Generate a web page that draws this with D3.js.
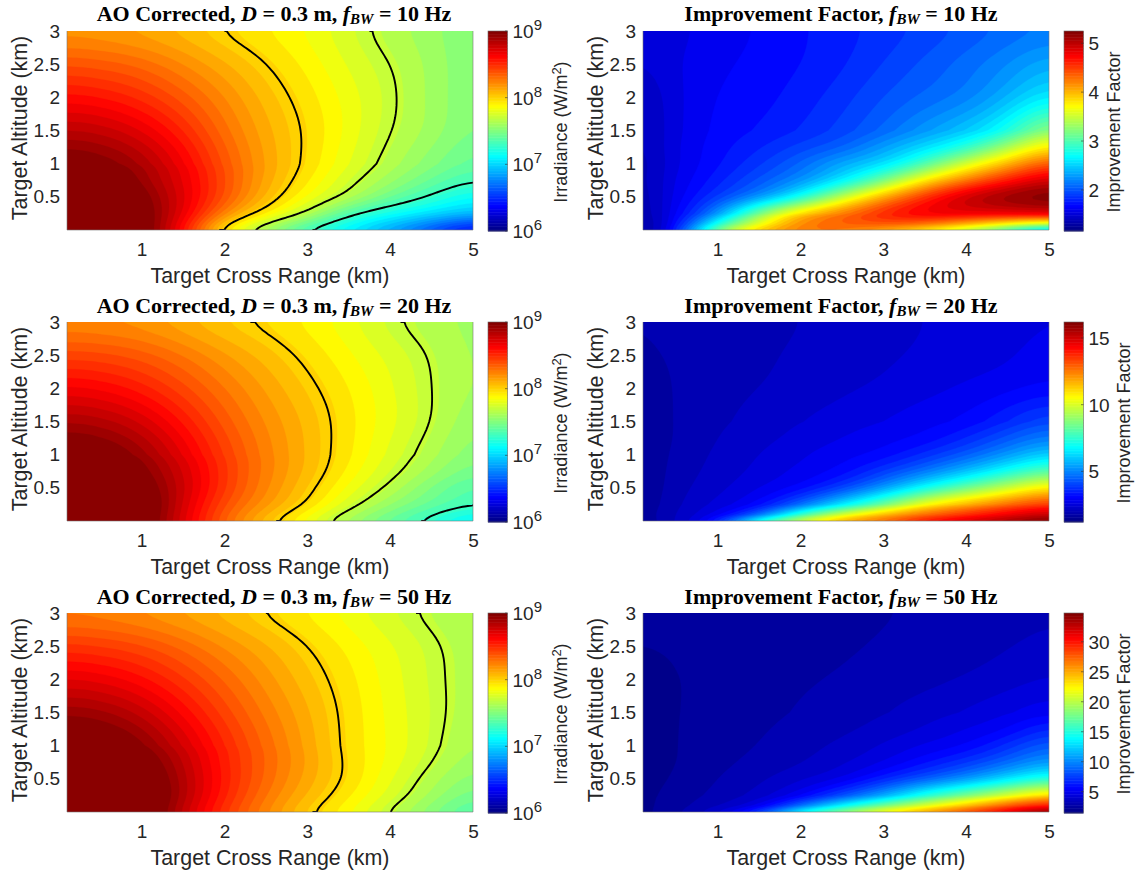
<!DOCTYPE html>
<html><head><meta charset="utf-8">
<script src="https://cdn.jsdelivr.net/npm/d3@7/dist/d3.min.js"></script>
<style>
html,body{margin:0;padding:0;background:#fff}
svg{display:block}
text{font-family:"Liberation Sans",Arial,sans-serif;fill:#262626}
.ttl{font-family:"Liberation Serif","Times New Roman",serif;font-weight:bold;fill:#000}
</style></head><body><div id="chart"></div>
<script>
// Shared axes of the data grids
const crossRangeKm = [0.1,0.5,1,1.5,2,2.5,3,3.5,4,4.5,5];
const altIrradianceKm = [0,0.25,0.5,0.75,1,1.5,2,2.5,3];
const altFactorKm = [0,0.1,0.25,0.5,0.75,1,1.25,1.5,2,2.5,3];

// log10 irradiance, one row per altitude (bottom to top)
const logIrradiance10Hz = [
 [9.3,9.3,9.08,8.6,7.91,7.58,7.29,7.07,6.85,6.6,6.35],
 [9.3,9.3,9.05,8.7,8.23,7.92,7.67,7.35,7.17,7.03,6.9],
 [9.25,9.25,9.0,8.72,8.38,8.08,7.85,7.65,7.44,7.28,7.12],
 [9.15,9.13,8.92,8.7,8.4,8.13,7.93,7.74,7.58,7.43,7.3],
 [9.03,9.0,8.88,8.66,8.38,8.15,7.97,7.8,7.65,7.52,7.4],
 [8.82,8.8,8.7,8.52,8.3,8.12,7.98,7.84,7.7,7.6,7.48],
 [8.6,8.58,8.5,8.37,8.22,8.07,7.95,7.83,7.72,7.6,7.5],
 [8.39,8.37,8.32,8.22,8.11,8.0,7.9,7.79,7.7,7.6,7.5],
 [8.18,8.17,8.13,8.07,7.985,7.92,7.85,7.75,7.65,7.58,7.5]];
const logIrradiance20Hz = [
 [9.35,9.35,9.1,8.72,8.33,8.06,7.83,7.59,7.42,7.25,7.08],
 [9.35,9.35,9.12,8.75,8.4,8.18,7.98,7.75,7.56,7.42,7.3],
 [9.3,9.3,9.05,8.78,8.46,8.23,8.04,7.84,7.67,7.49,7.36],
 [9.2,9.18,8.98,8.76,8.47,8.25,8.08,7.9,7.74,7.59,7.45],
 [9.08,9.05,8.92,8.7,8.45,8.25,8.09,7.93,7.78,7.64,7.51],
 [8.87,8.85,8.75,8.57,8.37,8.21,8.08,7.94,7.82,7.7,7.56],
 [8.65,8.63,8.55,8.42,8.28,8.15,8.03,7.92,7.81,7.7,7.6],
 [8.43,8.42,8.37,8.28,8.17,8.07,7.97,7.87,7.78,7.69,7.6],
 [8.22,8.21,8.18,8.11,8.03,7.97,7.9,7.82,7.715,7.645,7.6]];
const logIrradiance50Hz = [
 [9.4,9.4,9.15,8.8,8.47,8.23,8.025,7.87,7.69,7.52,7.35],
 [9.4,9.4,9.17,8.85,8.53,8.28,8.09,7.93,7.77,7.6,7.45],
 [9.35,9.35,9.12,8.85,8.55,8.32,8.13,7.97,7.81,7.65,7.52],
 [9.25,9.22,9.05,8.82,8.54,8.33,8.15,7.97,7.84,7.7,7.57],
 [9.12,9.09,8.97,8.76,8.52,8.32,8.14,7.96,7.85,7.73,7.6],
 [8.92,8.9,8.8,8.62,8.43,8.26,8.11,7.96,7.84,7.74,7.63],
 [8.7,8.68,8.6,8.47,8.33,8.19,8.06,7.94,7.83,7.73,7.64],
 [8.48,8.46,8.41,8.32,8.21,8.11,8.0,7.9,7.81,7.72,7.64],
 [8.25,8.24,8.2,8.14,8.07,7.985,7.91,7.83,7.745,7.67,7.62]];

// Improvement factor, one row per altitude (bottom to top)
const factor10Hz = [
 [1.3,1.68,3.2,3.9,4.25,4.25,4.1,3.85,3.5,3.05,2.5],
 [1.3,1.64,2.8,3.6,4.2,4.35,4.4,4.3,4.05,3.75,3.5],
 [1.32,1.62,2.25,3.2,3.9,4.25,4.6,4.8,4.8,4.8,4.85],
 [1.33,1.6,1.9,2.25,2.75,3.45,4.05,4.55,4.95,5.15,5.25],
 [1.35,1.58,1.78,2.0,2.25,2.62,3.15,3.8,4.25,4.65,4.95],
 [1.35,1.56,1.72,1.88,2.07,2.35,2.55,3.0,3.55,4.0,4.45],
 [1.37,1.56,1.7,1.8,1.93,2.05,2.3,2.55,2.85,3.35,3.85],
 [1.38,1.55,1.68,1.74,1.82,1.93,2.08,2.28,2.47,2.78,3.35],
 [1.4,1.55,1.66,1.7,1.77,1.86,1.98,2.08,2.17,2.38,2.65],
 [1.48,1.56,1.63,1.68,1.73,1.8,1.9,2.0,2.1,2.22,2.38],
 [1.5,1.55,1.6,1.66,1.72,1.78,1.85,1.92,2.0,2.08,2.15]];
const factor20Hz = [
 [1.6,2.1,3.3,7.2,9.6,11.7,12.6,14,14.8,15.5,16.2],
 [1.6,2.1,2.8,4.5,7.6,9.9,11.5,12.7,13.6,14.5,15.2],
 [1.55,2.05,2.5,3.1,4.6,6.5,8.4,10.6,11.7,12.8,13.6],
 [1.5,2.0,2.3,2.7,3.1,4,5.3,7,8.4,9.7,11],
 [1.5,1.95,2.2,2.5,2.8,3.1,3.9,4.8,5.9,7.1,8.3],
 [1.5,1.9,2.15,2.4,2.65,2.9,3.1,3.7,4.4,5.3,6.3],
 [1.5,1.85,2.1,2.3,2.5,2.7,2.9,3.07,3.6,4.3,5],
 [1.5,1.85,2.05,2.2,2.4,2.55,2.7,2.9,3.07,3.6,4.2],
 [1.55,1.85,2,2.1,2.2,2.35,2.45,2.6,2.75,2.9,3.1],
 [1.75,1.85,1.95,2.05,2.15,2.25,2.35,2.45,2.55,2.65,2.85],
 [1.8,1.85,1.9,2,2.1,2.2,2.3,2.4,2.5,2.6,2.7]];
const factor50Hz = [
 [1.9,2.6,4,7,14,18,22,25,28,31,34.5],
 [1.9,2.5,3.4,4.7,9,13.6,17.5,21,24,27.5,30],
 [1.9,2.4,3,3.7,5.3,8,11,15,18,21,24],
 [1.85,2.2,2.8,3.3,4,4.8,6.6,8.5,10.5,13,15.5],
 [1.85,2.08,2.6,3,3.4,4,4.8,6,7.3,9,11],
 [1.85,2.08,2.5,2.8,3.2,3.6,4.2,4.9,5.5,7,8.8],
 [1.85,2.08,2.45,2.7,3,3.3,3.7,4.2,4.8,5.4,7],
 [1.85,2.08,2.4,2.6,2.85,3.1,3.4,3.8,4.2,4.7,5.3],
 [1.85,2.08,2.35,2.5,2.7,2.85,3.05,3.25,3.5,3.8,4.2],
 [2.12,2.2,2.3,2.4,2.55,2.7,2.85,3,3.2,3.4,3.7],
 [2.18,2.2,2.25,2.35,2.45,2.6,2.75,2.85,3,3.15,3.35]];

const bandwidthsHz = [10,20,50];
const irradianceGrids = [logIrradiance10Hz,logIrradiance20Hz,logIrradiance50Hz];
const factorGrids = [factor10Hz,factor20Hz,factor50Hz];
const irradianceContours = [[Math.log10(2e7),Math.log10(5e7),8],[Math.log10(2e7),Math.log10(5e7),8],[Math.log10(5e7),8]];
const irradianceRange = [6,9];
const factorRanges = [[1.16,5.25],[1.2,16.2],[1.45,34.8]];
const factorTicks = [[2,3,4,5],[5,10,15],[5,10,15,20,25,30]];
const irradianceExponents = [6,7,8,9];
const crossTicks = [1,2,3,4,5];
const altTicks = [0.5,1,1.5,2,2.5,3];
const rowTops = [31,322,613];

const W=1135,H=875,PH=199,BANDS=50,UP=8;
const svg=d3.select("#chart").append("svg").attr("width",W).attr("height",H);
const defs=svg.append("defs");

function jet(v){
  v=Math.max(0,Math.min(1,v));
  const r=Math.max(0,Math.min(1,Math.min(4*v-1.5,-4*v+4.5)));
  const g=Math.max(0,Math.min(1,Math.min(4*v-0.5,-4*v+3.5)));
  const b=Math.max(0,Math.min(1,Math.min(4*v+0.5,-4*v+2.5)));
  return d3.rgb(r*255,g*255,b*255).formatHex();
}
function cr(a,b,c,d,t){ // Catmull-Rom smoothing of the table for display
  return 0.5*((2*b)+(-a+c)*t+(2*a-5*b+4*c-d)*t*t+(-a+3*b-3*c+d)*t*t*t);
}
function soften(arr,w,h,rx,ry){ // light moving-average to hide reading noise
  const pass=(src,get,n,m,r,set)=>{
    for(let a=0;a<m;a++){
      const line=[];
      for(let k=0;k<n;k++) line.push(src[get(k,a)]);
      for(let k=0;k<n;k++){
        let s=0;
        for(let q=-r;q<=r;q++) s+=line[Math.max(0,Math.min(n-1,k+q))];
        set(k,a,s/(2*r+1));
      }
    }
  };
  for(let it=0;it<3;it++){
    pass(arr,(k,a)=>a*w+k,w,h,rx,(k,a,v)=>{arr[a*w+k]=v;});
    pass(arr,(k,a)=>k*w+a,h,w,ry,(k,a,v)=>{arr[k*w+a]=v;});
  }
  return arr;
}
function upsample(grid){
  const nr=grid.length,nc=grid[0].length;
  const w=(nc-1)*UP+1,h=(nr-1)*UP+1,rows=[];
  for(let j=0;j<nr;j++){
    const row=[];
    for(let i=0;i<w;i++){
      const k=Math.min(Math.floor(i/UP),nc-2),t=i/UP-k,p=grid[j];
      row.push(cr(p[Math.max(k-1,0)],p[k],p[k+1],p[Math.min(k+2,nc-1)],t));
    }
    rows.push(row);
  }
  const out=new Array(w*h);
  for(let i=0;i<w;i++)for(let y=0;y<h;y++){
    const k=Math.min(Math.floor(y/UP),nr-2),t=y/UP-k;
    out[y*w+i]=cr(rows[Math.max(k-1,0)][i],rows[k][i],rows[k+1][i],rows[Math.min(k+2,nr-1)][i],t);
  }
  return {values:soften(out,w,h,3,2),w,h};
}
const tickStyle=(g)=>{g.select(".domain").remove();g.selectAll("line").remove();};

function panel(cfg){
  const {left,top,grid,alts,range,levels,cbLeft}=cfg;
  const x=d3.scaleLinear().domain([crossRangeKm[0],crossRangeKm[crossRangeKm.length-1]]).range([left,left+406]);
  const y=d3.scaleLinear().domain([0,3]).range([top+PH,top]);
  const ix=d3.scaleLinear().domain(d3.range(crossRangeKm.length)).range(crossRangeKm);
  const iy=d3.scaleLinear().domain(d3.range(alts.length)).range(alts);
  const up=upsample(grid);
  const toData=(cx,cy)=>{
    const gx=Math.max(0,Math.min(crossRangeKm.length-1,(cx-0.5)/UP));
    const gy=Math.max(0,Math.min(alts.length-1,(cy-0.5)/UP));
    return [x(ix(gx)),y(iy(gy))];
  };
  const geo=d3.geoPath(d3.geoTransform({point(a,b){const p=toData(a,b);this.stream.point(p[0],p[1]);}}));
  const clipId="clip"+left+"_"+top;
  defs.append("clipPath").attr("id",clipId).append("rect").attr("x",left).attr("y",top).attr("width",406).attr("height",PH);
  const g=svg.append("g");
  const plot=g.append("g").attr("clip-path",`url(#${clipId})`);
  const step=(range[1]-range[0])/BANDS;
  const thresholds=d3.range(0,BANDS).map(k=>range[0]+k*step);
  const colorOf=(lv)=>jet((lv+step/2-range[0])/(range[1]-range[0]));
  plot.append("rect").attr("x",left).attr("y",top).attr("width",406).attr("height",PH).attr("fill",jet(0));
  const cont=d3.contours().size([up.w,up.h]);
  thresholds.forEach(t=>{
    plot.append("path").attr("d",geo(cont.contour(up.values,t))).attr("fill",colorOf(t)).attr("stroke",colorOf(t)).attr("stroke-width",0.3);
  });
  // black iso-lines: open parts of each contour ring, without the frame
  const line=d3.line();
  const onFrame=p=>p[0]<=0||p[1]<=0||p[0]>=up.w||p[1]>=up.h;
  levels.forEach(t=>{
    cont.contour(up.values,t).coordinates.forEach(poly=>poly.forEach(ring=>{
      let seg=[],prev=null;
      const flush=()=>{ if(seg.length>1) plot.append("path").attr("d",line(seg.map(p=>toData(p[0],p[1])))).attr("fill","none").attr("stroke","#000").attr("stroke-width",1.9); seg=[]; };
      ring.forEach(p=>{
        if(onFrame(p)){ if(seg.length){seg.push(p);flush();} prev=p; }
        else { if(!seg.length&&prev) seg.push(prev); seg.push(p); prev=null; }
      });
      flush();
    }));
  });
  // frame hints
  g.append("path").attr("d",`M${left},${top}V${top+PH}H${left+406}V${top}`).attr("fill","none").attr("stroke","#777").attr("stroke-width",0.8).attr("opacity",0.75);
  // axes
  const ax=g.append("g").attr("transform",`translate(0,${top+PH})`).call(d3.axisBottom(x).tickValues(crossTicks).tickSize(0).tickPadding(13).tickFormat(d3.format("d")));
  ax.call(tickStyle); ax.selectAll("text").attr("font-size",19);
  const ay=g.append("g").attr("transform",`translate(${left},0)`).call(d3.axisLeft(y).tickValues(altTicks).tickSize(0).tickPadding(7).tickFormat(d=>String(d)));
  ay.call(tickStyle); ay.selectAll("text").attr("font-size",19);
  g.append("text").attr("x",left+203).attr("y",top+252).attr("text-anchor","middle").attr("font-size",21.4).text("Target Cross Range (km)");
  g.append("text").attr("transform",`translate(${left-40},${top+97}) rotate(-90)`).attr("text-anchor","middle").attr("font-size",21.4).text("Target Altitude (km)");
  // title
  const tt=g.append("text").attr("class","ttl").attr("x",left+cfg.titleDx).attr("y",top-10+cfg.titleDy).attr("text-anchor","middle").attr("font-size",22);
  cfg.title.forEach(s=>{
    const sp=tt.append("tspan").text(s.t).attr("class","ttl");
    if(s.i) sp.attr("font-style","italic");
    if(s.sub) sp.attr("font-size",15).attr("dy",3);
    if(s.back) sp.attr("dy",-3);
  });
  // colorbar
  const cbW=19.5;
  const cy=d3.scaleLinear().domain(range).range([top+PH+1,top]);
  const cbg=g.append("g");
  d3.range(0,128).forEach(k=>{
    const a=range[0]+(range[1]-range[0])*k/128,b=range[0]+(range[1]-range[0])*(k+1)/128;
    cbg.append("rect").attr("x",cbLeft).attr("width",cbW).attr("y",cy(b)).attr("height",cy(a)-cy(b)+0.5).attr("fill",jet((k+0.5)/128));
  });
  cbg.append("rect").attr("x",cbLeft).attr("y",top).attr("width",cbW).attr("height",PH+1).attr("fill","none").attr("stroke","#666").attr("stroke-width",0.6);
  cfg.ticks.forEach(tv=>{
    cbg.append("line").attr("x1",cbLeft+cbW-2.5).attr("x2",cbLeft+cbW).attr("y1",cy(tv)).attr("y2",cy(tv)).attr("stroke","#333").attr("stroke-width",0.6);
    const t=cbg.append("text").attr("x",cbLeft+cbW+5).attr("y",cy(tv)+7).attr("font-size",19);
    if(cfg.log){
      t.append("tspan").text("10");
      t.append("tspan").text(tv).attr("font-size",15).attr("dy",-8);
    } else t.text(tv);
  });
  const lab=g.append("text").attr("transform",`translate(${cbLeft+cbW+cfg.labDx},${top+101}) rotate(-90)`).attr("text-anchor","middle").attr("font-size",18);
  if(cfg.log){
    lab.append("tspan").text("Irradiance (W/m");
    lab.append("tspan").text("2").attr("font-size",13).attr("dy",-6);
    lab.append("tspan").text(")").attr("dy",6);
  } else lab.text("Improvement Factor");
}

bandwidthsHz.forEach((hz,r)=>{
  panel({left:67,top:rowTops[r],grid:irradianceGrids[r],alts:altIrradianceKm,range:irradianceRange,levels:irradianceContours[r],
    cbLeft:488,ticks:irradianceExponents,log:true,labDx:59,titleDx:207,titleDy:r===0?0:1,
    title:[{t:"AO Corrected, "},{t:"D",i:true},{t:" = 0.3 m, "},{t:"f",i:true},{t:"BW",i:true,sub:true},{t:" = "+hz+" Hz",back:true}]});
  panel({left:643,top:rowTops[r],grid:factorGrids[r],alts:altFactorKm,range:factorRanges[r],levels:[],
    cbLeft:1064,ticks:factorTicks[r],log:false,labDx:r===0?36:46,titleDx:198,titleDy:r===0?0:1,
    title:[{t:"Improvement Factor, "},{t:"f",i:true},{t:"BW",i:true,sub:true},{t:" = "+hz+" Hz",back:true}]});
});
</script></body></html>
